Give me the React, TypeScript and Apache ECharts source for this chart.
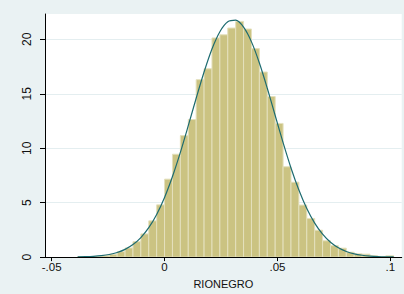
import React, { useEffect, useRef } from "react";
import * as echarts from "echarts";

// Histogram bins (Stata style: 40 bins)
const binStart = -0.0385;
const binWidth = 0.0035;
const density = [
  0.02, 0.03, 0.06, 0.12, 0.26, 0.5, 0.84, 1.42, 2.13, 3.33,
  4.8, 7.16, 9.45, 11.16, 12.64, 16.3, 17.3, 20.13, 20.42, 21.04,
  21.65, 20.95, 19.15, 17.0, 14.75, 12.28, 8.3, 6.88, 4.78, 3.55,
  2.47, 1.5, 1.05, 0.82, 0.45, 0.3, 0.27, 0.12, 0.06, 0.12,
];

// Normal density overlay, read at the bin edges
const curveY = [
  0.018, 0.037, 0.072, 0.134, 0.242, 0.422, 0.71, 1.149, 1.794, 2.7,
  3.92, 5.48, 7.4, 9.62, 12.07, 14.59, 17.0, 19.11, 20.7, 21.61,
  21.76, 21.12, 19.77, 17.83, 15.51, 13.01, 10.51, 8.19, 6.16, 4.46,
  3.12, 2.1, 1.36, 0.852, 0.514, 0.299, 0.168, 0.091, 0.047, 0.024, 0.012,
];

const xTickValues = [-0.05, 0, 0.05, 0.1];
const xTickLabels = ["-.05", "0", ".05", ".1"];
const yTickValues = [0, 5, 10, 15, 20];
const xAxisTitle = "RIONEGRO";

const FONT = "'Liberation Sans', Arial, Helvetica, sans-serif";

export default function App() {
  const ref = useRef<HTMLDivElement>(null);
  useEffect(() => {
    if (!ref.current) return;
    const chart = echarts.init(ref.current, null, { renderer: "svg" });
    const barData = density.map((d, i) => [
      binStart + i * binWidth,
      binStart + (i + 1) * binWidth,
      d,
    ]);
    const curveData = curveY.map((y, i) => [binStart + i * binWidth, y]);
    chart.setOption({
      animation: false,
      backgroundColor: "#eaf2f3",
      grid: {
        left: 45,
        right: 2.3,
        top: 14,
        bottom: 34.7,
        show: true,
        backgroundColor: "#ffffff",
        borderWidth: 0,
      },
      xAxis: {
        type: "value",
        min: -0.05296,
        max: 0.10504,
        z: 5,
        axisLine: { show: true, onZero: false, lineStyle: { color: "#000", width: 1 } },
        axisTick: {
          show: true,
          length: 4,
          customValues: xTickValues,
          lineStyle: { color: "#000" },
        },
        axisLabel: {
          customValues: xTickValues,
          margin: 4,
          fontSize: 11.5,
          color: "#111",
          fontFamily: FONT,
          formatter: (v: number) => {
            let best = 0;
            xTickValues.forEach((t, i) => {
              if (Math.abs(t - v) < Math.abs(xTickValues[best] - v)) best = i;
            });
            return xTickLabels[best];
          },
        },
        splitLine: { show: false },
        name: xAxisTitle,
        nameLocation: "middle",
        nameGap: 19,
        nameTextStyle: { fontSize: 11, color: "#111", fontFamily: FONT },
      },
      yAxis: {
        type: "value",
        min: 0,
        max: 22.33,
        interval: 5,
        axisLine: { show: true, onZero: false, lineStyle: { color: "#000", width: 1 } },
        axisTick: {
          show: true,
          length: 5,
          customValues: yTickValues,
          lineStyle: { color: "#000" },
        },
        axisLabel: {
          customValues: yTickValues,
          rotate: 90,
          margin: 12,
          fontSize: 12,
          color: "#111",
          fontFamily: FONT,
        },
        splitLine: { show: true, lineStyle: { color: "#e4eef0", width: 1 } },
      },
      series: [
        {
          type: "custom",
          data: barData,
          encode: { x: [0, 1], y: 2 },
          renderItem: (_params: any, api: any) => {
            const x0 = api.value(0);
            const x1 = api.value(1);
            const h = api.value(2);
            const p0 = api.coord([x0, h]);
            const p1 = api.coord([x1, 0]);
            return {
              type: "rect",
              shape: { x: p0[0], y: p0[1], width: p1[0] - p0[0], height: p1[1] - p0[1] },
              style: { fill: "#cbc382", stroke: "#e4e0bd", lineWidth: 1 },
            };
          },
          z: 2,
        },
        {
          type: "line",
          data: curveData,
          smooth: 0.3,
          symbol: "none",
          lineStyle: { color: "#1d6b70", width: 1.2 },
          z: 3,
        },
      ],
    });
    return () => chart.dispose();
  }, []);
  return (
    <div
      ref={ref}
      style={{ position: "fixed", left: 0, top: 0, width: 404, height: 294 }}
    />
  );
}
